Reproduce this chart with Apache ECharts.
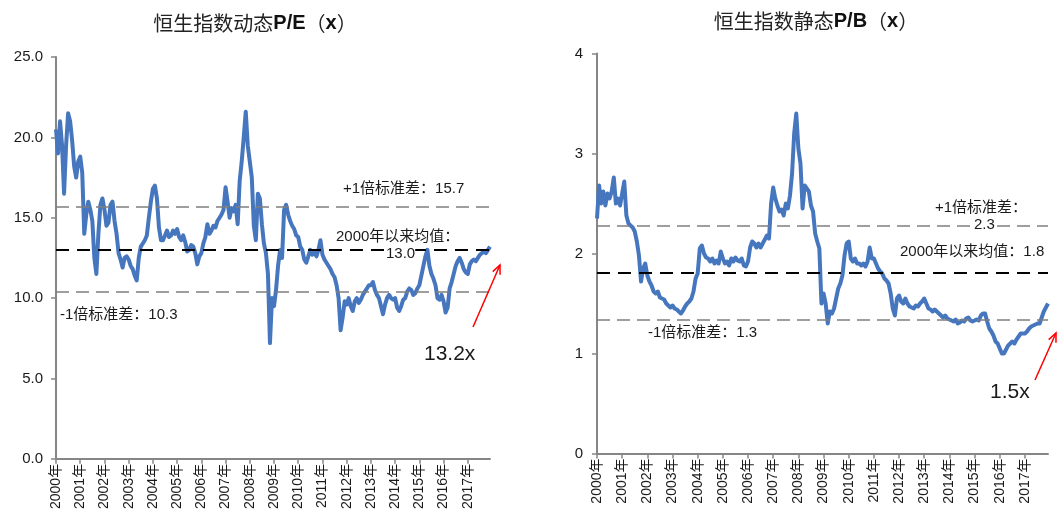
<!DOCTYPE html>
<html>
<head>
<meta charset="utf-8">
<script src="https://cdn.jsdelivr.net/npm/echarts@6/dist/echarts.min.js"></script>
<style>
  html, body { margin: 0; padding: 0; background: #fff; }
  #chart { width: 1058px; height: 512px; }
</style>
</head>
<body>
<div id="chart"></div>
<script>
// years on the x axis, one point per month
var years = ['2000', '2001', '2002', '2003', '2004', '2005', '2006', '2007', '2008',
    '2009', '2010', '2011', '2012', '2013', '2014', '2015', '2016', '2017'];

// 恒生指数动态P/E, monthly
var peValues = [
    20.5, 19.0, 21.0, 19.5, 16.5, 19.5, 21.5, 21.0, 19.8, 18.2, 17.5, 18.5,
    18.8, 17.8, 14.0, 15.2, 16.0, 15.5, 14.8, 12.5, 11.5, 14.0, 15.8, 16.2,
    15.5, 14.5, 14.7, 15.8, 16.0, 14.8, 14.0, 12.8, 12.4, 11.9, 12.5, 12.6,
    12.4, 12.0, 11.8, 11.4, 11.1, 12.5, 13.2, 13.4, 13.6, 13.9, 15.0, 16.0,
    16.8, 17.0, 16.2, 14.4, 13.6, 13.6, 13.9, 14.2, 13.8, 13.9, 14.2, 14.0,
    14.3, 13.8, 13.6, 13.9, 13.5, 12.9, 13.0, 13.3, 13.2, 12.8, 12.1, 12.6,
    12.8, 13.4, 13.8, 14.6, 14.0, 14.2, 14.5, 14.4, 14.8, 15.0, 15.2, 15.5,
    16.9, 16.0, 15.0, 15.6, 15.4, 15.8, 14.6, 17.3, 18.5, 20.0, 21.6, 19.5,
    18.5, 17.5, 14.5, 13.6, 16.5, 16.2, 14.6, 13.4, 12.8, 11.5, 7.2, 10.0,
    9.5, 10.5, 12.0, 13.0, 12.5, 15.5, 15.8, 15.2, 14.8, 14.5, 14.3, 13.9,
    13.8, 13.2, 13.0, 12.4, 12.2, 12.6, 13.0, 12.7, 12.9, 12.6, 13.0, 13.6,
    12.7, 12.4, 12.2, 12.0, 11.8, 11.5, 11.3, 10.8, 10.0, 8.0, 8.8, 9.8,
    9.6, 10.0, 9.5, 9.2, 9.8, 10.0, 9.7, 9.9, 10.2, 10.4, 10.6, 10.8,
    10.8, 11.0, 10.5, 10.2, 10.0, 9.5, 9.0, 9.6, 10.0, 10.2, 10.0, 9.9,
    10.0, 9.4, 9.2, 9.5, 9.9, 10.0, 10.4, 10.6, 10.5, 10.2, 10.3, 10.6,
    10.8, 11.4, 12.0, 12.6, 13.0, 12.0, 11.5, 11.2, 10.8, 10.0, 9.9, 10.2,
    9.8, 9.1, 9.4, 10.6, 11.0, 11.5, 12.0, 12.3, 12.5, 12.2, 11.8, 11.6,
    11.5, 12.1, 12.3, 12.4, 12.3, 12.5, 12.7, 12.8, 12.9, 12.8, 13.0, 13.2
];

// 恒生指数静态P/B, monthly
var pbValues = [
    2.35, 2.68, 2.50, 2.62, 2.48, 2.60, 2.55, 2.62, 2.76, 2.50, 2.55, 2.48,
    2.60, 2.72, 2.38, 2.30, 2.28, 2.26, 2.22, 2.12, 1.98, 1.72, 1.85, 1.90,
    1.78, 1.72, 1.68, 1.62, 1.60, 1.62, 1.56, 1.55, 1.54, 1.50, 1.48, 1.46,
    1.48, 1.45, 1.44, 1.42, 1.40, 1.43, 1.47, 1.50, 1.52, 1.55, 1.62, 1.75,
    1.80, 2.05, 2.08, 2.00, 1.96, 1.95, 1.92, 1.95, 1.90, 1.93, 1.90, 2.02,
    1.95, 1.90, 1.92, 1.88, 1.95, 1.92, 1.96, 1.93, 1.92, 1.95, 1.88, 1.87,
    1.92, 2.06, 2.12, 2.10, 2.06, 2.10, 2.06, 2.10, 2.14, 2.18, 2.15, 2.50,
    2.66, 2.55, 2.48, 2.42, 2.44, 2.38, 2.50, 2.45, 2.58, 2.80, 3.20, 3.40,
    3.05, 2.90, 2.45, 2.68, 2.65, 2.62, 2.48, 2.42, 2.20, 2.12, 2.05, 1.50,
    1.60, 1.50, 1.30, 1.42, 1.40, 1.45, 1.55, 1.65, 1.70, 1.78, 1.98, 2.10,
    2.12, 1.95, 1.92, 1.95, 1.90, 1.90, 1.88, 1.90, 1.87, 1.92, 2.06, 1.95,
    1.95, 1.90, 1.85, 1.82, 1.80, 1.75, 1.73, 1.70, 1.60, 1.45, 1.38, 1.55,
    1.58, 1.52, 1.50, 1.55, 1.50, 1.47, 1.46, 1.45, 1.48, 1.47, 1.50, 1.52,
    1.55, 1.50, 1.45, 1.44, 1.42, 1.44, 1.42, 1.40, 1.38, 1.36, 1.38, 1.35,
    1.34, 1.33, 1.32, 1.34, 1.30, 1.31, 1.33, 1.32, 1.35, 1.36, 1.33, 1.32,
    1.33, 1.34, 1.33, 1.38, 1.40, 1.40, 1.32, 1.25, 1.22, 1.18, 1.12, 1.10,
    1.05, 1.00, 1.00, 1.04, 1.08, 1.10, 1.12, 1.10, 1.14, 1.17, 1.20, 1.20,
    1.20, 1.22, 1.25, 1.27, 1.28, 1.29, 1.30, 1.30, 1.36, 1.42, 1.46, 1.50
];

// reference lines: +1 std, mean since 2000, -1 std
var peBands = [15.7, 13.0, 10.4];
var pbBands = [2.28, 1.81, 1.34];

var months = [];
years.forEach(function(y) {
    for (var m = 1; m <= 12; m++) months.push(y + '-' + (m < 10 ? '0' + m : m));
});

var latin = "'Liberation Sans', Arial, 'Noto Sans CJK SC', sans-serif";
var cjk = "'Noto Sans CJK SC', 'Liberation Sans', sans-serif";
var lineColor = '#4677be';
var axisColor = '#868686';
var ink = '#1a1a1a';

function xAxisFor(gridIndex) {
    return {
        type: 'category',
        gridIndex: gridIndex,
        data: months,
        boundaryGap: false,
        axisLine: { lineStyle: { color: axisColor, width: 2 } },
        axisTick: {
            length: 5,
            interval: function(i) { return i % 12 === 0; },
            lineStyle: { color: axisColor, width: 1.5 }
        },
        axisLabel: {
            interval: function(i) { return i % 12 === 0; },
            rotate: 90,
            margin: 5,
            color: ink,
            fontSize: 14,
            fontFamily: latin,
            formatter: function(v) { return v.slice(0, 4) + '年'; }
        },
        splitLine: { show: false }
    };
}

function bandLines(vals) {
    return {
        silent: true,
        symbol: 'none',
        label: { show: false },
        data: [
            { yAxis: vals[0], lineStyle: { color: '#7f7f7f', width: 1.5, type: [13, 7] } },
            { yAxis: vals[1], lineStyle: { color: '#000000', width: 2, type: [13, 8] } },
            { yAxis: vals[2], lineStyle: { color: '#7f7f7f', width: 1.5, type: [13, 7] } }
        ]
    };
}

function txt(text, x, y, size, extra) {
    var st = { text: text, x: x, y: y, fill: ink, font: size + 'px ' + latin, verticalAlign: 'middle' };
    for (var k in extra) st[k] = extra[k];
    return { type: 'text', z: 100, style: st };
}

function arrow(x1, y1, x2, y2) {
    var dx = x2 - x1, dy = y2 - y1, len = Math.sqrt(dx * dx + dy * dy);
    var ux = dx / len, uy = dy / len, h = 9, w = 4;
    var bx = x2 - ux * h, by = y2 - uy * h;
    return [
        { type: 'line', z: 100, shape: { x1: x1, y1: y1, x2: x2, y2: y2 }, style: { stroke: '#ff0000', lineWidth: 1.5 } },
        { type: 'polyline', z: 100, shape: { points: [[bx - uy * w, by + ux * w], [x2, y2], [bx + uy * w, by - ux * w]] },
          style: { stroke: '#ff0000', lineWidth: 1.5, fill: null } }
    ];
}

var chart = echarts.init(document.getElementById('chart'), null, { renderer: 'canvas' });

var titleRich = {
    n: { fontSize: 20, fontFamily: cjk, fontWeight: 'normal', color: '#222' },
    b: { fontSize: 20, fontFamily: latin, fontWeight: 'bold', color: '#111' }
};

chart.setOption({
    animation: false,
    backgroundColor: '#ffffff',
    title: [
        { text: '{n|恒生指数动态}{b|P/E}{n|（}{b|x}{n|）}', left: 250, top: 8, textAlign: 'center', textStyle: { fontWeight: 'normal', rich: titleRich } },
        { text: '{n|恒生指数静态}{b|P/B}{n|（}{b|x}{n|）}', left: 811, top: 6, textAlign: 'center', textStyle: { fontWeight: 'normal', rich: titleRich } }
    ],
    grid: [
        { left: 56, top: 57, width: 434, height: 402 },
        { left: 597, top: 53.5, width: 451, height: 400 }
    ],
    xAxis: [xAxisFor(0), xAxisFor(1)],
    yAxis: [
        {
            type: 'value', gridIndex: 0, min: 0, max: 25, interval: 5,
            axisLine: { show: true, lineStyle: { color: axisColor, width: 2 } },
            axisTick: { show: true, length: 5, lineStyle: { color: axisColor, width: 1.5 } },
            axisLabel: { color: ink, fontSize: 15, fontFamily: latin, margin: 13, formatter: function(v) { return v.toFixed(1); } },
            splitLine: { show: false }
        },
        {
            type: 'value', gridIndex: 1, min: 0, max: 4, interval: 1,
            axisLine: { show: true, lineStyle: { color: axisColor, width: 2 } },
            axisTick: { show: true, length: 5, lineStyle: { color: axisColor, width: 1.5 } },
            axisLabel: { color: ink, fontSize: 15, fontFamily: latin, margin: 14 },
            splitLine: { show: false }
        }
    ],
    series: [
        { type: 'line', xAxisIndex: 0, yAxisIndex: 0, data: [], z: 1, markLine: bandLines(peBands) },
        { type: 'line', xAxisIndex: 1, yAxisIndex: 1, data: [], z: 1, markLine: bandLines(pbBands) },
        {
            name: 'P/E', type: 'line', xAxisIndex: 0, yAxisIndex: 0, data: peValues, z: 3,
            showSymbol: false, lineStyle: { color: lineColor, width: 4, join: 'round' }
        },
        {
            name: 'P/B', type: 'line', xAxisIndex: 1, yAxisIndex: 1, data: pbValues, z: 3,
            showSymbol: false, lineStyle: { color: lineColor, width: 4, join: 'round' }
        }
    ],
    graphic: [
        txt('+1倍标准差：15.7', 343, 189, 15),
        txt('2000年以来均值：', 336, 237, 15),
        txt('13.0', 386, 254, 15, { backgroundColor: '#fff' }),
        txt('-1倍标准差：10.3', 60, 315, 15),
        txt('13.2x', 424, 354, 21),
        txt('+1倍标准差：', 935, 208, 15),
        txt('2.3', 974, 225, 15, { backgroundColor: '#fff' }),
        txt('2000年以来均值：1.8', 900, 252, 15),
        txt('-1倍标准差：1.3', 648, 333, 15),
        txt('1.5x', 990, 392, 21)
    ].concat(arrow(473, 327, 500, 265), arrow(1035, 380, 1056, 333))
});

window.addEventListener('resize', function() { chart.resize(); });
</script>
</body>
</html>
